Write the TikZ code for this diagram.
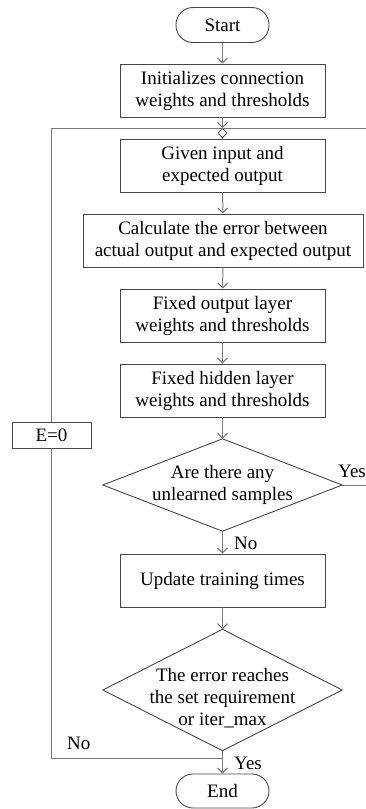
\documentclass[tikz,border=0pt]{standalone}
\usepackage{fontspec}
\setmainfont{Liberation Serif}
\usetikzlibrary{arrows.meta,shapes.geometric}
\definecolor{boxc}{RGB}{70,70,70}
\definecolor{linec}{RGB}{120,120,120}
\tikzset{
  base/.style={font=\fontsize{19}{22}\selectfont, align=center, inner sep=0pt},
  proc/.style={base, draw=boxc, line width=0.9pt, minimum height=53pt},
  term/.style={base, draw=boxc, line width=0.9pt, rounded corners=17pt, minimum width=93pt, minimum height=35pt},
  decis/.style={base, minimum width=239pt},
  conn/.style={draw=linec, line width=1pt},
  arr/.style={conn, -{Straight Barb[length=5pt,width=10pt]}},
  lbl/.style={font=\fontsize{19}{22}\selectfont, inner sep=0pt, anchor=west}
}
\begin{document}
\begin{tikzpicture}[x=1pt,y=-1pt]
\useasboundingbox (0,0) rectangle (366,809);
\node[term] (start) at (222.5,25) {Start};
\node[proc, minimum width=205pt] (init) at (222.5,90.5) {Initializes connection\\weights and thresholds};
\coordinate (jn) at (222.5,128);
\node[draw=boxc, fill=white, diamond, inner sep=0pt, minimum width=9pt, minimum height=10pt, line width=0.8pt] (jd) at (222.5,133) {};
\node[proc, minimum width=205pt] (given) at (222.5,165.5) {Given input and\\expected output};
\node[proc, minimum width=280pt] (calc) at (223,240.5) {Calculate the error between\\actual output and expected output};
\node[proc, minimum width=205pt] (outl) at (222.5,315.5) {Fixed output layer\\weights and thresholds};
\node[proc, minimum width=205pt] (hid) at (222.5,390.5) {Fixed hidden layer\\weights and thresholds};
\node[proc, minimum width=79pt, minimum height=26pt] (e0) at (51.5,435) {E=0};
\node[decis, minimum height=92pt] (d1) at (222.5,485) {Are there any\\unlearned samples};
\draw[draw=boxc, line width=0.9pt] (d1.north) -- (d1.east) -- (d1.south) -- (d1.west) -- cycle;
\node[proc, minimum width=205pt] (upd) at (222.5,580.5) {Update training times};
\node[decis, minimum height=121pt] (d2) at (222.5,690) {};
\draw[draw=boxc, line width=0.9pt] (d2.north) -- (d2.east) -- (d2.south) -- (d2.west) -- cycle;
\node[base] (d2t) at (222.5,698) {The error reaches\\the set requirement\\or iter\_max};
\node[term, minimum height=34pt] (end) at (222.5,791) {End};

\coordinate (jb) at (222.5,758);
\coordinate (rt) at (372,128);
\coordinate (rb) at (372,485);

\draw[arr] (start) -- (init);
\draw[arr] (init) -- (jn);
\draw[conn] (jd) -- (given);
\draw[arr] (given) -- (calc);
\draw[arr] (calc) -- (outl);
\draw[arr] (outl) -- (hid);
\draw[arr] (hid) -- (d1.north);
\draw[arr] (d1.south) -- (upd);
\draw[arr] (upd) -- (d2.north);
\draw[arr] (d2.south) -- (end);
\draw[conn] (jb) -| (e0.south);
\draw[conn] (e0.north) |- (jn);
\draw[conn] (d1.east) -- (rb) -- (rt) -- (jn);

\node[lbl] (yes1) at (338,471) {Yes};
\node[lbl] (no1) at (234,543) {No};
\node[lbl] (no2) at (67,743) {No};
\node[lbl] (yes2) at (234,763) {Yes};
\end{tikzpicture}
\end{document}
